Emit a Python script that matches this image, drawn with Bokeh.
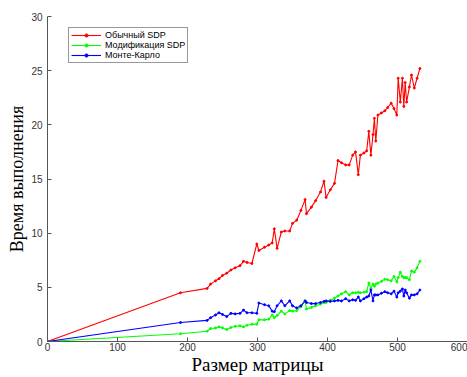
from bokeh.plotting import figure
from bokeh.embed import file_html
from bokeh.resources import INLINE
from bokeh.models import Range1d, FixedTicker, Legend, LegendItem

x_size = [0, 190, 228, 233, 240, 245, 250, 256, 262, 268, 275, 280, 285, 292, 299, 302,
          310, 316, 321, 324, 328, 334, 339, 346, 350, 356, 362, 368, 370, 377, 383, 390,
          395, 398, 404, 410, 415, 420, 426, 431, 436, 440, 444, 447, 452, 456, 459, 462,
          465, 467, 469, 472, 477, 482, 486, 491, 495, 499, 501, 504, 507, 509, 511, 513,
          517, 520, 524, 528, 532]

sdp_plain = [0, 4.5, 4.9, 5.3, 5.6, 5.8, 6.1, 6.3, 6.6, 6.8, 7.0, 7.4, 7.3, 7.2, 9.0, 8.4,
             8.7, 8.9, 9.1, 10.4, 8.6, 10.1, 10.2, 10.2, 10.9, 11.2, 12.1, 13.1, 11.8, 12.4, 13.0, 13.8,
             14.8, 13.3, 14.0, 14.6, 16.7, 16.5, 16.3, 16.3, 17.2, 17.5, 15.4, 17.2, 17.4, 17.6, 19.4, 17.2,
             19.1, 20.6, 18.5, 20.9, 21.1, 21.3, 21.6, 22.0, 21.5, 20.9, 24.3, 22.1, 24.3, 21.7, 23.9, 22.1,
             23.5, 24.6, 23.4, 24.3, 25.2]

sdp_mod = [0, 0.72, 0.95, 1.2, 1.25, 1.35, 1.25, 1.1, 1.3, 1.4, 1.45, 1.35, 1.5, 1.6, 1.6, 2.0,
           2.0, 2.05, 2.45, 2.2, 2.4, 2.8, 2.55, 2.85, 2.8, 2.85, 3.2, 3.75, 3.0, 3.15, 3.3, 3.45,
           3.6, 3.6, 3.8, 4.0, 4.2, 4.4, 4.6, 4.3, 4.5, 4.5, 4.55, 4.5, 4.55, 4.6, 5.4, 4.9,
           5.3, 5.1, 5.3, 5.4, 5.55, 5.75, 5.7, 5.6, 6.0, 5.5, 5.9, 6.4, 6.0, 5.9, 5.9, 5.9,
           5.7, 6.5, 6.4, 6.8, 7.4]

monte_carlo = [0, 1.75, 1.95, 2.2, 2.45, 2.65, 2.5, 2.3, 2.6, 2.55, 2.6, 2.9, 2.65, 2.65, 2.6, 3.55,
               3.4, 3.3, 2.8, 2.75, 3.3, 3.75, 3.3, 3.75, 3.3, 3.1, 3.3, 3.75, 3.6, 3.5, 3.5, 3.6,
               3.7, 3.75, 3.7, 3.75, 3.8, 3.75, 3.95, 3.75, 3.85, 3.8, 4.1, 3.75, 3.95, 4.1, 4.2, 4.75,
               3.75, 4.3, 4.3, 4.3, 4.45, 4.6, 4.5, 4.4, 4.65, 4.1, 4.5, 4.65, 4.85, 4.2, 4.75, 4.5,
               4.0, 4.3, 4.3, 4.4, 4.75]

series_names = ["Обычный SDP", "Модификация SDP", "Монте-Карло"]
series_colors = ["#ff0000", "#00ff00", "#0000ff"]
x_ticks = [0, 100, 200, 300, 400, 500, 600]
y_ticks = [0, 5, 10, 15, 20, 25, 30]

p = figure(width=467, height=377, output_backend="svg", toolbar_location=None,
           x_range=Range1d(0, 600), y_range=Range1d(0, 30),
           min_border_left=47, min_border_top=16, min_border_right=0, min_border_bottom=30)
p.outline_line_color = None
p.grid.grid_line_color = None
p.background_fill_color = "white"
p.border_fill_color = "white"

items = []
for ys, name, col in zip([sdp_plain, sdp_mod, monte_carlo], series_names, series_colors):
    r1 = p.line(x_size, ys, line_color=col, line_width=1.1)
    r2 = p.scatter(x_size, ys, size=2, color=col)
    items.append(LegendItem(label=name, renderers=[r1, r2]))

legend = Legend(items=items, location=(21, 278))
legend.label_text_font = "Liberation Sans"
legend.label_text_font_size = "9px"
legend.label_text_color = "#000000"
legend.label_height = 8
legend.glyph_height = 8
legend.glyph_width = 30
legend.label_standoff = 4
legend.spacing = 0
legend.padding = 2
legend.margin = 0
legend.border_line_color = "#333333"
legend.border_line_width = 1
p.add_layout(legend, "center")

for ax in (p.xaxis[0], p.yaxis[0]):
    ax.axis_line_color = "#555555"
    ax.major_tick_line_color = "#555555"
    ax.major_tick_in = 4
    ax.major_tick_out = 0
    ax.minor_tick_line_color = None
    ax.major_label_text_font = "Liberation Sans"
    ax.major_label_text_font_size = "10px"
    ax.major_label_text_color = "#333333"
    ax.axis_label_text_font = "Liberation Serif"
    ax.axis_label_text_font_style = "normal"
    ax.axis_label_text_color = "#000000"

p.xaxis.axis_label_text_font_size = "19px"
p.yaxis.axis_label_text_font_size = "18px"
p.xaxis.ticker = FixedTicker(ticks=x_ticks)
p.yaxis.ticker = FixedTicker(ticks=y_ticks)
p.xaxis.axis_label = "Размер матрицы"
p.yaxis.axis_label = "Время выполнения"
p.xaxis.major_label_standoff = 1
p.xaxis.axis_label_standoff = 0
p.yaxis.major_label_standoff = 5
p.yaxis.axis_label_standoff = 1

open("out.html", "w").write(file_html(p, INLINE))
